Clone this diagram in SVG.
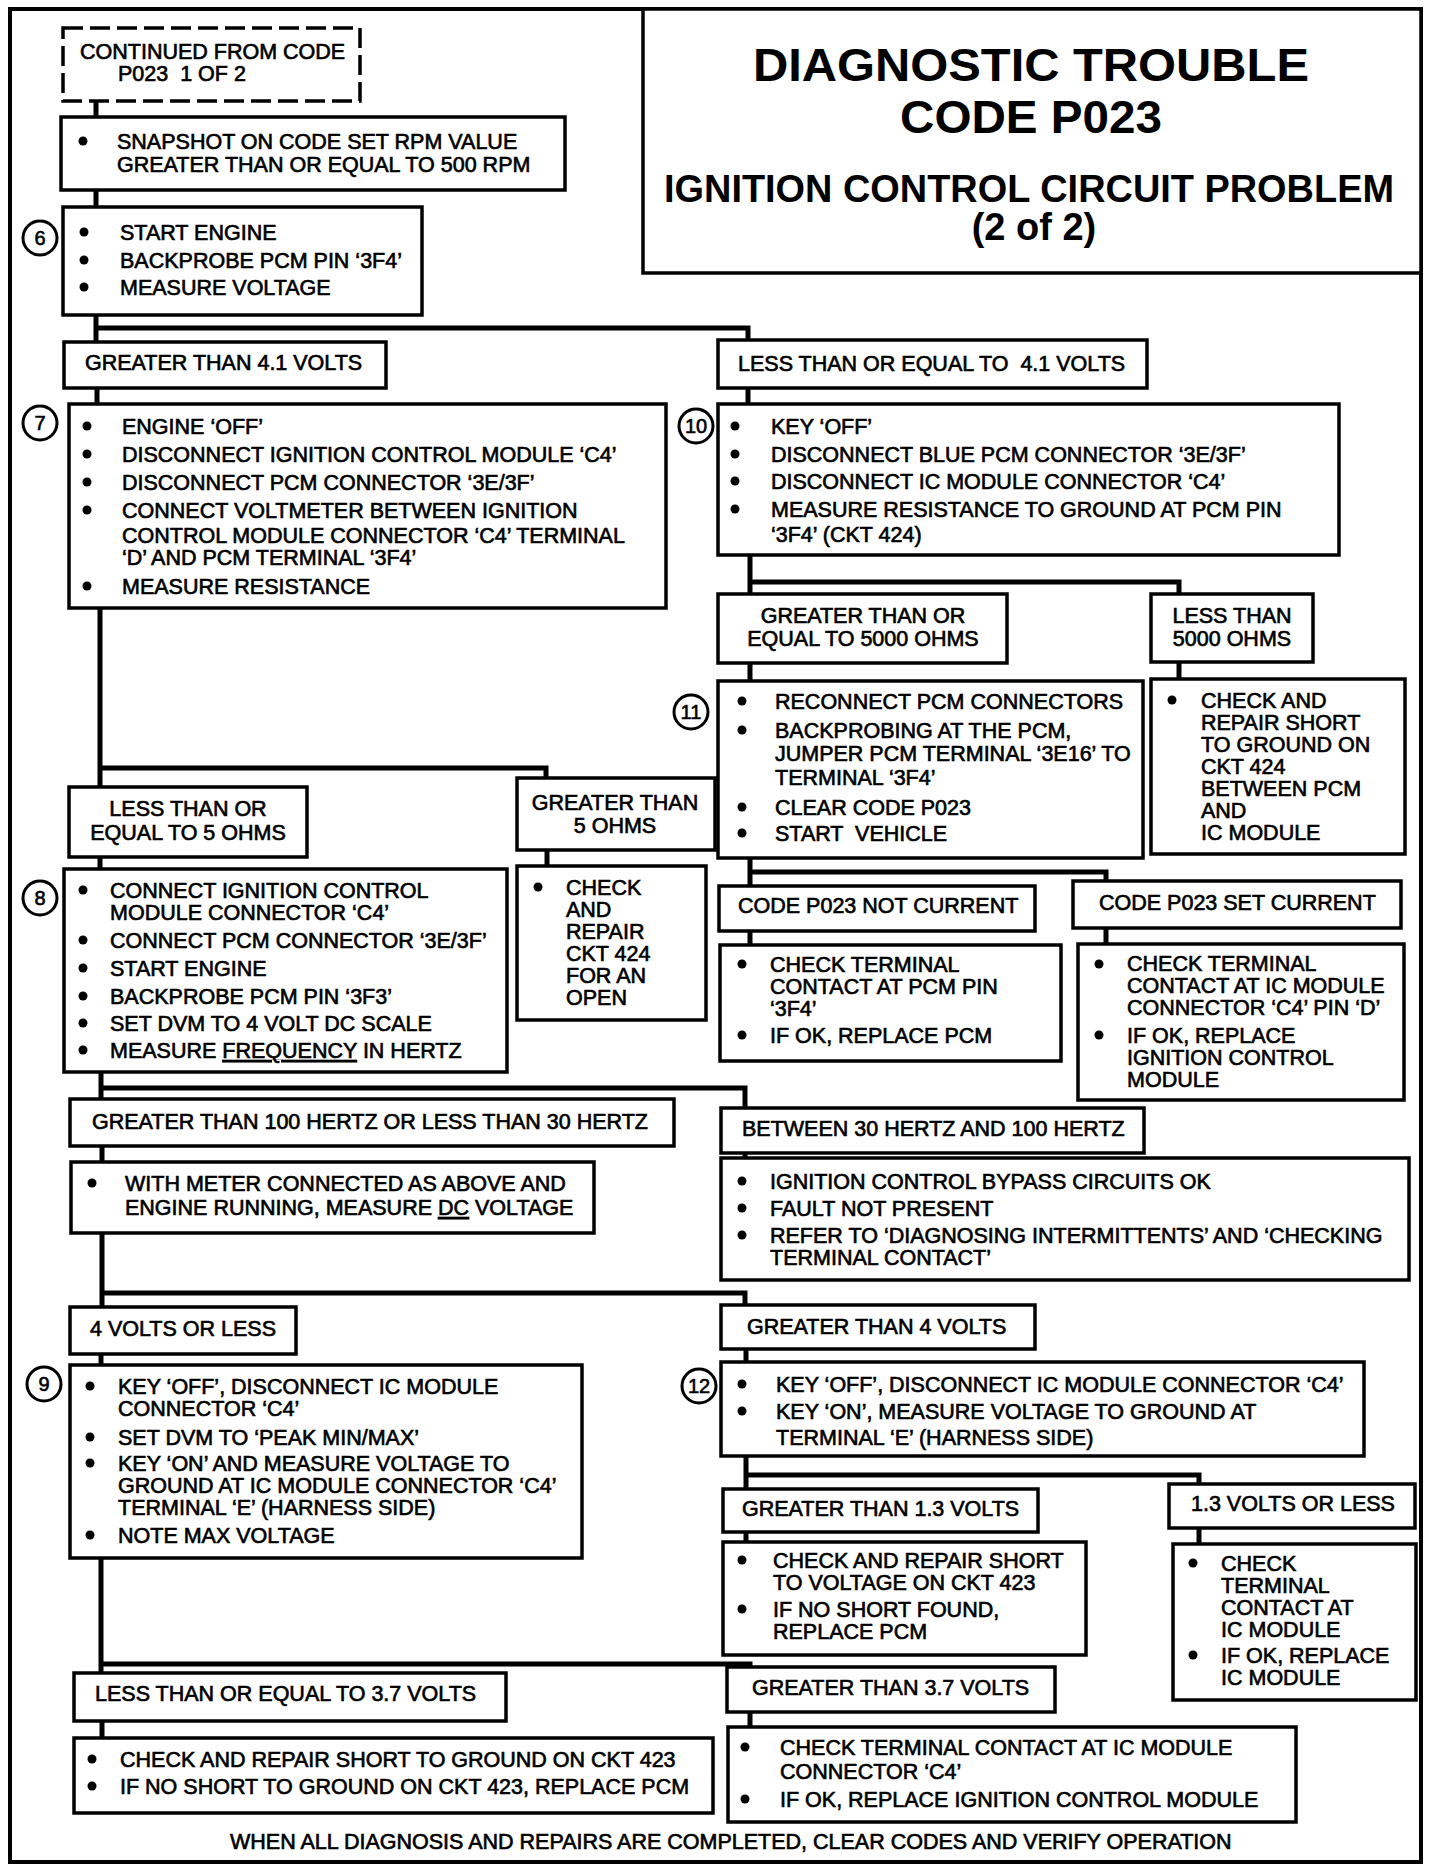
<svg xmlns="http://www.w3.org/2000/svg" width="1440" height="1868" viewBox="0 0 1440 1868">
<style>
.bg{fill:#fff}
.box{fill:#fff;stroke:#000;stroke-width:3.5}
.dash{fill:#fff;stroke:#000;stroke-width:3.5;stroke-dasharray:20 7}
.frame{fill:none;stroke:#000;stroke-width:4}
.t{font-family:"Liberation Sans",Arial,Helvetica,sans-serif;font-size:21.5px;fill:#000;stroke:#000;stroke-width:0.65}
.m{text-anchor:middle}
.h1{font-family:"Liberation Sans",Arial,Helvetica,sans-serif;font-weight:bold;fill:#000;text-anchor:middle}
.b{fill:#000}
.num{fill:#fff;stroke:#000;stroke-width:3}
.nt{font-family:"Liberation Sans",Arial,Helvetica,sans-serif;font-size:20px;fill:#000;text-anchor:middle;stroke:#000;stroke-width:0.6}
.c{fill:none;stroke:#000;stroke-width:5;stroke-linejoin:miter}
.u{text-decoration:underline}
</style>
<rect class="bg" x="0" y="0" width="1440" height="1868"/>
<rect class="frame" x="10" y="9" width="1411" height="1853"/>

<g id="connectors">
<polyline class="c" points="96,101 96,117"/>
<polyline class="c" points="96,190 96,207"/>
<polyline class="c" points="96,315 96,342"/>
<polyline class="c" points="96,328 748,328 748,340"/>
<polyline class="c" points="97,388 97,404"/>
<polyline class="c" points="748,388 748,404"/>
<polyline class="c" points="100,608 100,787"/>
<polyline class="c" points="100,768 546,768 546,778"/>
<polyline class="c" points="100,857 100,869"/>
<polyline class="c" points="547,850 547,866"/>
<polyline class="c" points="750,555 750,594"/>
<polyline class="c" points="750,582 1179,582 1179,594"/>
<polyline class="c" points="750,663 750,681"/>
<polyline class="c" points="1179,662 1179,679"/>
<polyline class="c" points="750,858 750,886"/>
<polyline class="c" points="750,872 1106,872 1106,881"/>
<polyline class="c" points="750,931 750,945"/>
<polyline class="c" points="1106,928 1106,944"/>
<polyline class="c" points="101,1072 101,1099"/>
<polyline class="c" points="101,1088 745,1088 745,1108"/>
<polyline class="c" points="102,1146 102,1162"/>
<polyline class="c" points="745,1153 745,1158"/>
<polyline class="c" points="102,1233 102,1307"/>
<polyline class="c" points="102,1293 745,1293 745,1305"/>
<polyline class="c" points="101,1354 101,1365"/>
<polyline class="c" points="746,1349 746,1362"/>
<polyline class="c" points="101,1558 101,1673"/>
<polyline class="c" points="101,1664 750,1664 750,1667"/>
<polyline class="c" points="102,1721 102,1738"/>
<polyline class="c" points="750,1712 750,1727"/>
<polyline class="c" points="746,1456 746,1489"/>
<polyline class="c" points="746,1475 1199,1475 1199,1484"/>
<polyline class="c" points="746,1532 746,1542"/>
<polyline class="c" points="1199,1528 1199,1544"/>
</g>

<g id="title">
<rect class="box" x="643" y="9" width="778" height="264"/>
<text class="h1" x="1031" y="81" font-size="46" textLength="556" lengthAdjust="spacingAndGlyphs">DIAGNOSTIC TROUBLE</text>
<text class="h1" x="1031" y="133" font-size="46" textLength="262" lengthAdjust="spacingAndGlyphs">CODE P023</text>
<text class="h1" x="1029" y="202" font-size="38" textLength="730" lengthAdjust="spacingAndGlyphs">IGNITION CONTROL CIRCUIT PROBLEM</text>
<text class="h1" x="1034" y="240" font-size="38">(2 of 2)</text>
</g>

<g id="n-continued">
<rect class="dash" x="63" y="28" width="297" height="73"/>
<text class="t" x="80" y="59">CONTINUED FROM CODE</text>
<text class="t" x="118" y="81" xml:space="preserve">P023  1 OF 2</text>
</g>

<g id="n-snapshot">
<rect class="box" x="61" y="117" width="504" height="73"/>
<circle class="b" cx="83" cy="141" r="4.5"/>
<text class="t" x="117" y="149">SNAPSHOT ON CODE SET RPM VALUE</text>
<text class="t" x="117" y="172">GREATER THAN OR EQUAL TO 500 RPM</text>
</g>

<g id="n6">
<circle class="num" cx="40" cy="238" r="17"/>
<text class="nt" x="40" y="245">6</text>
<rect class="box" x="63" y="207" width="359" height="108"/>
<circle class="b" cx="84" cy="232" r="4.5"/>
<text class="t" x="120" y="240">START ENGINE</text>
<circle class="b" cx="84" cy="260" r="4.5"/>
<text class="t" x="120" y="268">BACKPROBE PCM PIN ‘3F4’</text>
<circle class="b" cx="84" cy="287" r="4.5"/>
<text class="t" x="120" y="295">MEASURE VOLTAGE</text>
</g>

<g id="n-gt41">
<rect class="box" x="64" y="342" width="322" height="46"/>
<text class="t" x="85" y="370">GREATER THAN 4.1 VOLTS</text>
</g>

<g id="n-le41">
<rect class="box" x="718" y="340" width="429" height="48"/>
<text class="t" x="738" y="371" xml:space="preserve">LESS THAN OR EQUAL TO  4.1 VOLTS</text>
</g>

<g id="n7">
<circle class="num" cx="40" cy="423" r="17"/>
<text class="nt" x="40" y="430">7</text>
<rect class="box" x="69" y="404" width="597" height="204"/>
<circle class="b" cx="87" cy="426" r="4.5"/>
<text class="t" x="122" y="434">ENGINE ‘OFF’</text>
<circle class="b" cx="87" cy="454" r="4.5"/>
<text class="t" x="122" y="462">DISCONNECT IGNITION CONTROL MODULE ‘C4’</text>
<circle class="b" cx="87" cy="482" r="4.5"/>
<text class="t" x="122" y="490">DISCONNECT PCM CONNECTOR ‘3E/3F’</text>
<circle class="b" cx="87" cy="510" r="4.5"/>
<text class="t" x="122" y="518">CONNECT VOLTMETER BETWEEN IGNITION</text>
<text class="t" x="122" y="543">CONTROL MODULE CONNECTOR ‘C4’ TERMINAL</text>
<text class="t" x="122" y="565">‘D’ AND PCM TERMINAL ‘3F4’</text>
<circle class="b" cx="87" cy="586" r="4.5"/>
<text class="t" x="122" y="594">MEASURE RESISTANCE</text>
</g>

<g id="n10">
<circle class="num" cx="696" cy="426" r="17"/>
<text class="nt" x="696" y="433">10</text>
<rect class="box" x="718" y="404" width="621" height="151"/>
<circle class="b" cx="735" cy="426" r="4.5"/>
<text class="t" x="771" y="434">KEY ‘OFF’</text>
<circle class="b" cx="735" cy="454" r="4.5"/>
<text class="t" x="771" y="462">DISCONNECT BLUE PCM CONNECTOR ‘3E/3F’</text>
<circle class="b" cx="735" cy="481" r="4.5"/>
<text class="t" x="771" y="489">DISCONNECT IC MODULE CONNECTOR ‘C4’</text>
<circle class="b" cx="735" cy="509" r="4.5"/>
<text class="t" x="771" y="517">MEASURE RESISTANCE TO GROUND AT PCM PIN</text>
<text class="t" x="771" y="542">‘3F4’ (CKT 424)</text>
</g>

<g id="n-ge5000">
<rect class="box" x="718" y="594" width="289" height="69"/>
<text class="t m" x="863" y="623">GREATER THAN OR</text>
<text class="t m" x="863" y="646">EQUAL TO 5000 OHMS</text>
</g>

<g id="n-lt5000">
<rect class="box" x="1151" y="594" width="162" height="68"/>
<text class="t m" x="1232" y="623">LESS THAN</text>
<text class="t m" x="1232" y="646">5000 OHMS</text>
</g>

<g id="n11">
<circle class="num" cx="691" cy="712" r="17"/>
<text class="nt" x="691" y="719">11</text>
<rect class="box" x="718" y="681" width="425" height="177"/>
<circle class="b" cx="742" cy="701" r="4.5"/>
<text class="t" x="775" y="709">RECONNECT PCM CONNECTORS</text>
<circle class="b" cx="742" cy="730" r="4.5"/>
<text class="t" x="775" y="738">BACKPROBING AT THE PCM,</text>
<text class="t" x="775" y="761">JUMPER PCM TERMINAL ‘3E16’ TO</text>
<text class="t" x="775" y="785">TERMINAL ‘3F4’</text>
<circle class="b" cx="742" cy="807" r="4.5"/>
<text class="t" x="775" y="815">CLEAR CODE P023</text>
<circle class="b" cx="742" cy="833" r="4.5"/>
<text class="t" x="775" y="841" xml:space="preserve">START  VEHICLE</text>
</g>

<g id="n-short424">
<rect class="box" x="1151" y="679" width="254" height="175"/>
<circle class="b" cx="1172" cy="700" r="4.5"/>
<text class="t" x="1201" y="708">CHECK AND</text>
<text class="t" x="1201" y="730">REPAIR SHORT</text>
<text class="t" x="1201" y="752">TO GROUND ON</text>
<text class="t" x="1201" y="774">CKT 424</text>
<text class="t" x="1201" y="796">BETWEEN PCM</text>
<text class="t" x="1201" y="818">AND</text>
<text class="t" x="1201" y="840">IC MODULE</text>
</g>

<g id="n-le5">
<rect class="box" x="69" y="787" width="238" height="70"/>
<text class="t m" x="188" y="816">LESS THAN OR</text>
<text class="t m" x="188" y="840">EQUAL TO 5 OHMS</text>
</g>

<g id="n-gt5">
<rect class="box" x="517" y="778" width="198" height="72"/>
<text class="t m" x="615" y="810">GREATER THAN</text>
<text class="t m" x="615" y="833">5 OHMS</text>
</g>

<g id="n8">
<circle class="num" cx="40" cy="898" r="17"/>
<text class="nt" x="40" y="905">8</text>
<rect class="box" x="64" y="869" width="443" height="203"/>
<circle class="b" cx="83" cy="890" r="4.5"/>
<text class="t" x="110" y="898">CONNECT IGNITION CONTROL</text>
<text class="t" x="110" y="920">MODULE CONNECTOR ‘C4’</text>
<circle class="b" cx="83" cy="940" r="4.5"/>
<text class="t" x="110" y="948">CONNECT PCM CONNECTOR ‘3E/3F’</text>
<circle class="b" cx="83" cy="968" r="4.5"/>
<text class="t" x="110" y="976">START ENGINE</text>
<circle class="b" cx="83" cy="996" r="4.5"/>
<text class="t" x="110" y="1004">BACKPROBE PCM PIN ‘3F3’</text>
<circle class="b" cx="83" cy="1023" r="4.5"/>
<text class="t" x="110" y="1031">SET DVM TO 4 VOLT DC SCALE</text>
<circle class="b" cx="83" cy="1050" r="4.5"/>
<text class="t" x="110" y="1058">MEASURE <tspan class="u">FREQUENCY</tspan> IN HERTZ</text>
</g>

<g id="n-open">
<rect class="box" x="517" y="866" width="189" height="154"/>
<circle class="b" cx="538" cy="887" r="4.5"/>
<text class="t" x="566" y="895">CHECK</text>
<text class="t" x="566" y="917">AND</text>
<text class="t" x="566" y="939">REPAIR</text>
<text class="t" x="566" y="961">CKT 424</text>
<text class="t" x="566" y="983">FOR AN</text>
<text class="t" x="566" y="1005">OPEN</text>
</g>

<g id="n-notcurrent">
<rect class="box" x="719" y="886" width="316" height="45"/>
<text class="t" x="738" y="913">CODE P023 NOT CURRENT</text>
</g>

<g id="n-setcurrent">
<rect class="box" x="1073" y="881" width="328" height="47"/>
<text class="t" x="1099" y="910">CODE P023 SET CURRENT</text>
</g>

<g id="n-chkpcm">
<rect class="box" x="720" y="945" width="341" height="116"/>
<circle class="b" cx="742" cy="964" r="4.5"/>
<text class="t" x="770" y="972">CHECK TERMINAL</text>
<text class="t" x="770" y="994">CONTACT AT PCM PIN</text>
<text class="t" x="770" y="1016">‘3F4’</text>
<circle class="b" cx="742" cy="1035" r="4.5"/>
<text class="t" x="770" y="1043">IF OK, REPLACE PCM</text>
</g>

<g id="n-chkic">
<rect class="box" x="1078" y="944" width="326" height="156"/>
<circle class="b" cx="1099" cy="964" r="4.5"/>
<text class="t" x="1127" y="971">CHECK TERMINAL</text>
<text class="t" x="1127" y="993">CONTACT AT IC MODULE</text>
<text class="t" x="1127" y="1015">CONNECTOR ‘C4’ PIN ‘D’</text>
<circle class="b" cx="1099" cy="1035" r="4.5"/>
<text class="t" x="1127" y="1043">IF OK, REPLACE</text>
<text class="t" x="1127" y="1065">IGNITION CONTROL</text>
<text class="t" x="1127" y="1087">MODULE</text>
</g>

<g id="n-gt100">
<rect class="box" x="70" y="1099" width="604" height="47"/>
<text class="t" x="92" y="1129">GREATER THAN 100 HERTZ OR LESS THAN 30 HERTZ</text>
</g>

<g id="n-between">
<rect class="box" x="721" y="1108" width="423" height="45"/>
<text class="t" x="742" y="1136">BETWEEN 30 HERTZ AND 100 HERTZ</text>
</g>

<g id="n-meter">
<rect class="box" x="71" y="1162" width="523" height="71"/>
<circle class="b" cx="92" cy="1183" r="4.5"/>
<text class="t" x="125" y="1191">WITH METER CONNECTED AS ABOVE AND</text>
<text class="t" x="125" y="1215">ENGINE RUNNING, MEASURE <tspan class="u">DC</tspan> VOLTAGE</text>
</g>

<g id="n-bypass">
<rect class="box" x="721" y="1158" width="688" height="122"/>
<circle class="b" cx="742" cy="1181" r="4.5"/>
<text class="t" x="770" y="1189">IGNITION CONTROL BYPASS CIRCUITS OK</text>
<circle class="b" cx="742" cy="1208" r="4.5"/>
<text class="t" x="770" y="1216">FAULT NOT PRESENT</text>
<circle class="b" cx="742" cy="1235" r="4.5"/>
<text class="t" x="770" y="1243">REFER TO ‘DIAGNOSING INTERMITTENTS’ AND ‘CHECKING</text>
<text class="t" x="770" y="1265">TERMINAL CONTACT’</text>
</g>

<g id="n-4vless">
<rect class="box" x="70" y="1307" width="226" height="47"/>
<text class="t" x="90" y="1336">4 VOLTS OR LESS</text>
</g>

<g id="n-gt4v">
<rect class="box" x="721" y="1305" width="314" height="44"/>
<text class="t" x="747" y="1334">GREATER THAN 4 VOLTS</text>
</g>

<g id="n9">
<circle class="num" cx="44" cy="1384" r="17"/>
<text class="nt" x="44" y="1391">9</text>
<rect class="box" x="70" y="1365" width="512" height="193"/>
<circle class="b" cx="90" cy="1386" r="4.5"/>
<text class="t" x="118" y="1394">KEY ‘OFF’, DISCONNECT IC MODULE</text>
<text class="t" x="118" y="1416">CONNECTOR ‘C4’</text>
<circle class="b" cx="90" cy="1437" r="4.5"/>
<text class="t" x="118" y="1445">SET DVM TO ‘PEAK MIN/MAX’</text>
<circle class="b" cx="90" cy="1463" r="4.5"/>
<text class="t" x="118" y="1471">KEY ‘ON’ AND MEASURE VOLTAGE TO</text>
<text class="t" x="118" y="1493">GROUND AT IC MODULE CONNECTOR ‘C4’</text>
<text class="t" x="118" y="1515">TERMINAL ‘E’ (HARNESS SIDE)</text>
<circle class="b" cx="90" cy="1535" r="4.5"/>
<text class="t" x="118" y="1543">NOTE MAX VOLTAGE</text>
</g>

<g id="n12">
<circle class="num" cx="699" cy="1386" r="17"/>
<text class="nt" x="699" y="1393">12</text>
<rect class="box" x="721" y="1362" width="643" height="94"/>
<circle class="b" cx="742" cy="1384" r="4.5"/>
<text class="t" x="776" y="1392">KEY ‘OFF’, DISCONNECT IC MODULE CONNECTOR ‘C4’</text>
<circle class="b" cx="742" cy="1411" r="4.5"/>
<text class="t" x="776" y="1419">KEY ‘ON’, MEASURE VOLTAGE TO GROUND AT</text>
<text class="t" x="776" y="1445">TERMINAL ‘E’ (HARNESS SIDE)</text>
</g>

<g id="n-gt13">
<rect class="box" x="723" y="1489" width="315" height="43"/>
<text class="t" x="742" y="1516">GREATER THAN 1.3 VOLTS</text>
</g>

<g id="n-le13">
<rect class="box" x="1169" y="1484" width="246" height="44"/>
<text class="t" x="1191" y="1511">1.3 VOLTS OR LESS</text>
</g>

<g id="n-shortv">
<rect class="box" x="723" y="1542" width="363" height="113"/>
<circle class="b" cx="742" cy="1560" r="4.5"/>
<text class="t" x="773" y="1568">CHECK AND REPAIR SHORT</text>
<text class="t" x="773" y="1590">TO VOLTAGE ON CKT 423</text>
<circle class="b" cx="742" cy="1609" r="4.5"/>
<text class="t" x="773" y="1617">IF NO SHORT FOUND,</text>
<text class="t" x="773" y="1639">REPLACE PCM</text>
</g>

<g id="n-chkic2">
<rect class="box" x="1173" y="1544" width="243" height="156"/>
<circle class="b" cx="1193" cy="1563" r="4.5"/>
<text class="t" x="1221" y="1571">CHECK</text>
<text class="t" x="1221" y="1593">TERMINAL</text>
<text class="t" x="1221" y="1615">CONTACT AT</text>
<text class="t" x="1221" y="1637">IC MODULE</text>
<circle class="b" cx="1193" cy="1655" r="4.5"/>
<text class="t" x="1221" y="1663">IF OK, REPLACE</text>
<text class="t" x="1221" y="1685">IC MODULE</text>
</g>

<g id="n-le37">
<rect class="box" x="74" y="1673" width="432" height="48"/>
<text class="t" x="95" y="1701">LESS THAN OR EQUAL TO 3.7 VOLTS</text>
</g>

<g id="n-gt37">
<rect class="box" x="727" y="1667" width="328" height="45"/>
<text class="t" x="752" y="1695">GREATER THAN 3.7 VOLTS</text>
</g>

<g id="n-shortg">
<rect class="box" x="74" y="1738" width="639" height="75"/>
<circle class="b" cx="92" cy="1759" r="4.5"/>
<text class="t" x="120" y="1767">CHECK AND REPAIR SHORT TO GROUND ON CKT 423</text>
<circle class="b" cx="92" cy="1786" r="4.5"/>
<text class="t" x="120" y="1794">IF NO SHORT TO GROUND ON CKT 423, REPLACE PCM</text>
</g>

<g id="n-last">
<rect class="box" x="728" y="1727" width="568" height="95"/>
<circle class="b" cx="745" cy="1747" r="4.5"/>
<text class="t" x="780" y="1755">CHECK TERMINAL CONTACT AT IC MODULE</text>
<text class="t" x="780" y="1779">CONNECTOR ‘C4’</text>
<circle class="b" cx="745" cy="1799" r="4.5"/>
<text class="t" x="780" y="1807">IF OK, REPLACE IGNITION CONTROL MODULE</text>
</g>

<g id="footer">
<text class="t" x="230" y="1849">WHEN ALL DIAGNOSIS AND REPAIRS ARE COMPLETED, CLEAR CODES AND VERIFY OPERATION</text>
</g>
</svg>
